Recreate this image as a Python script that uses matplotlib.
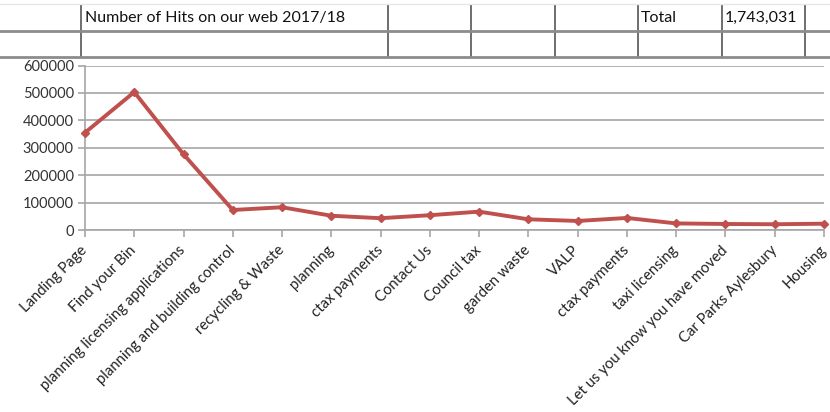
import matplotlib
matplotlib.use("Agg")
import matplotlib.pyplot as plt
from matplotlib.lines import Line2D

categories = ["Landing Page", "Find your Bin", "planning licensing applications",
              "planning and building control", "recycling & Waste", "planning",
              "ctax payments", "Contact Us", "Council tax", "garden waste", "VALP",
              "ctax payments", "taxi licensing", "Let us you know you have moved",
              "Car Parks Aylesbury", "Housing"]
hits = [355000, 503000, 276000, 73000, 83000, 52000, 43000, 54000, 67000,
        39000, 33000, 44000, 24000, 22000, 21000, 23000]
yticks = [0, 100000, 200000, 300000, 400000, 500000, 600000]
title_text = "Number of Hits on our web 2017/18"
total_label = "Total"
total_value = "1,743,031"

W, H = 830, 412
plt.rcParams['font.family'] = ['Lato', 'DejaVu Sans']
fig = plt.figure(figsize=(W / 100, H / 100), dpi=100)

def fx(px):
    return px / W

def fy(py):
    return 1 - py / H

# spreadsheet-like table at the top
vx = [81, 388, 471, 555, 638, 722, 805]
for x in vx:
    fig.add_artist(Line2D([fx(x), fx(x)], [fy(5), fy(57)], color="#555555", lw=1.2))
for y, c in [(31, "#8c8c8c"), (57, "#8c8c8c")]:
    fig.add_artist(Line2D([fx(0), fx(830)], [fy(y), fy(y)], color=c, lw=2.0))
fig.add_artist(Line2D([fx(0), fx(830)], [fy(4), fy(4)], color="#e6e6e6", lw=1.0))
fig.text(fx(85), fy(18), title_text, fontsize=11.5, va="center", ha="left", color="#111111")
fig.text(fx(641), fy(18), total_label, fontsize=11.5, va="center", ha="left", color="#111111")
fig.text(fx(725), fy(18), total_value, fontsize=11.5, va="center", ha="left", color="#111111")

ax = fig.add_axes([fx(85), fy(230), fx(824) - fx(85), fy(65.5) - fy(230)])
x = list(range(len(categories)))
ax.plot(x, hits, color="#C0504D", lw=2.8, marker="D", markersize=4.5, zorder=3, clip_on=False)
ax.set_xlim(0, len(categories) - 1)
ax.set_ylim(0, 600000)
ax.set_yticks(yticks)
ax.set_yticklabels([str(v) for v in yticks], fontsize=10.5, color="#333333")
ax.set_xticks(x)
ax.set_xticklabels(categories, rotation=45, ha="right", va="center", rotation_mode="anchor",
                   fontsize=10.7, color="#222222")
ax.grid(axis="y", color="#a6a6a6", lw=1.2)
ax.set_axisbelow(True)
for s in ["top", "right"]:
    ax.spines[s].set_visible(False)
ax.spines["left"].set_color("#a6a6a6")
ax.spines["bottom"].set_color("#a6a6a6")
ax.spines["left"].set_linewidth(1.2)
ax.spines["bottom"].set_linewidth(1.2)
ax.tick_params(axis="y", color="#a6a6a6", width=1.2, length=5, pad=3)
ax.tick_params(axis="x", color="#a6a6a6", width=1.2, length=5, pad=8)

fig.savefig("out.png", dpi=100)
